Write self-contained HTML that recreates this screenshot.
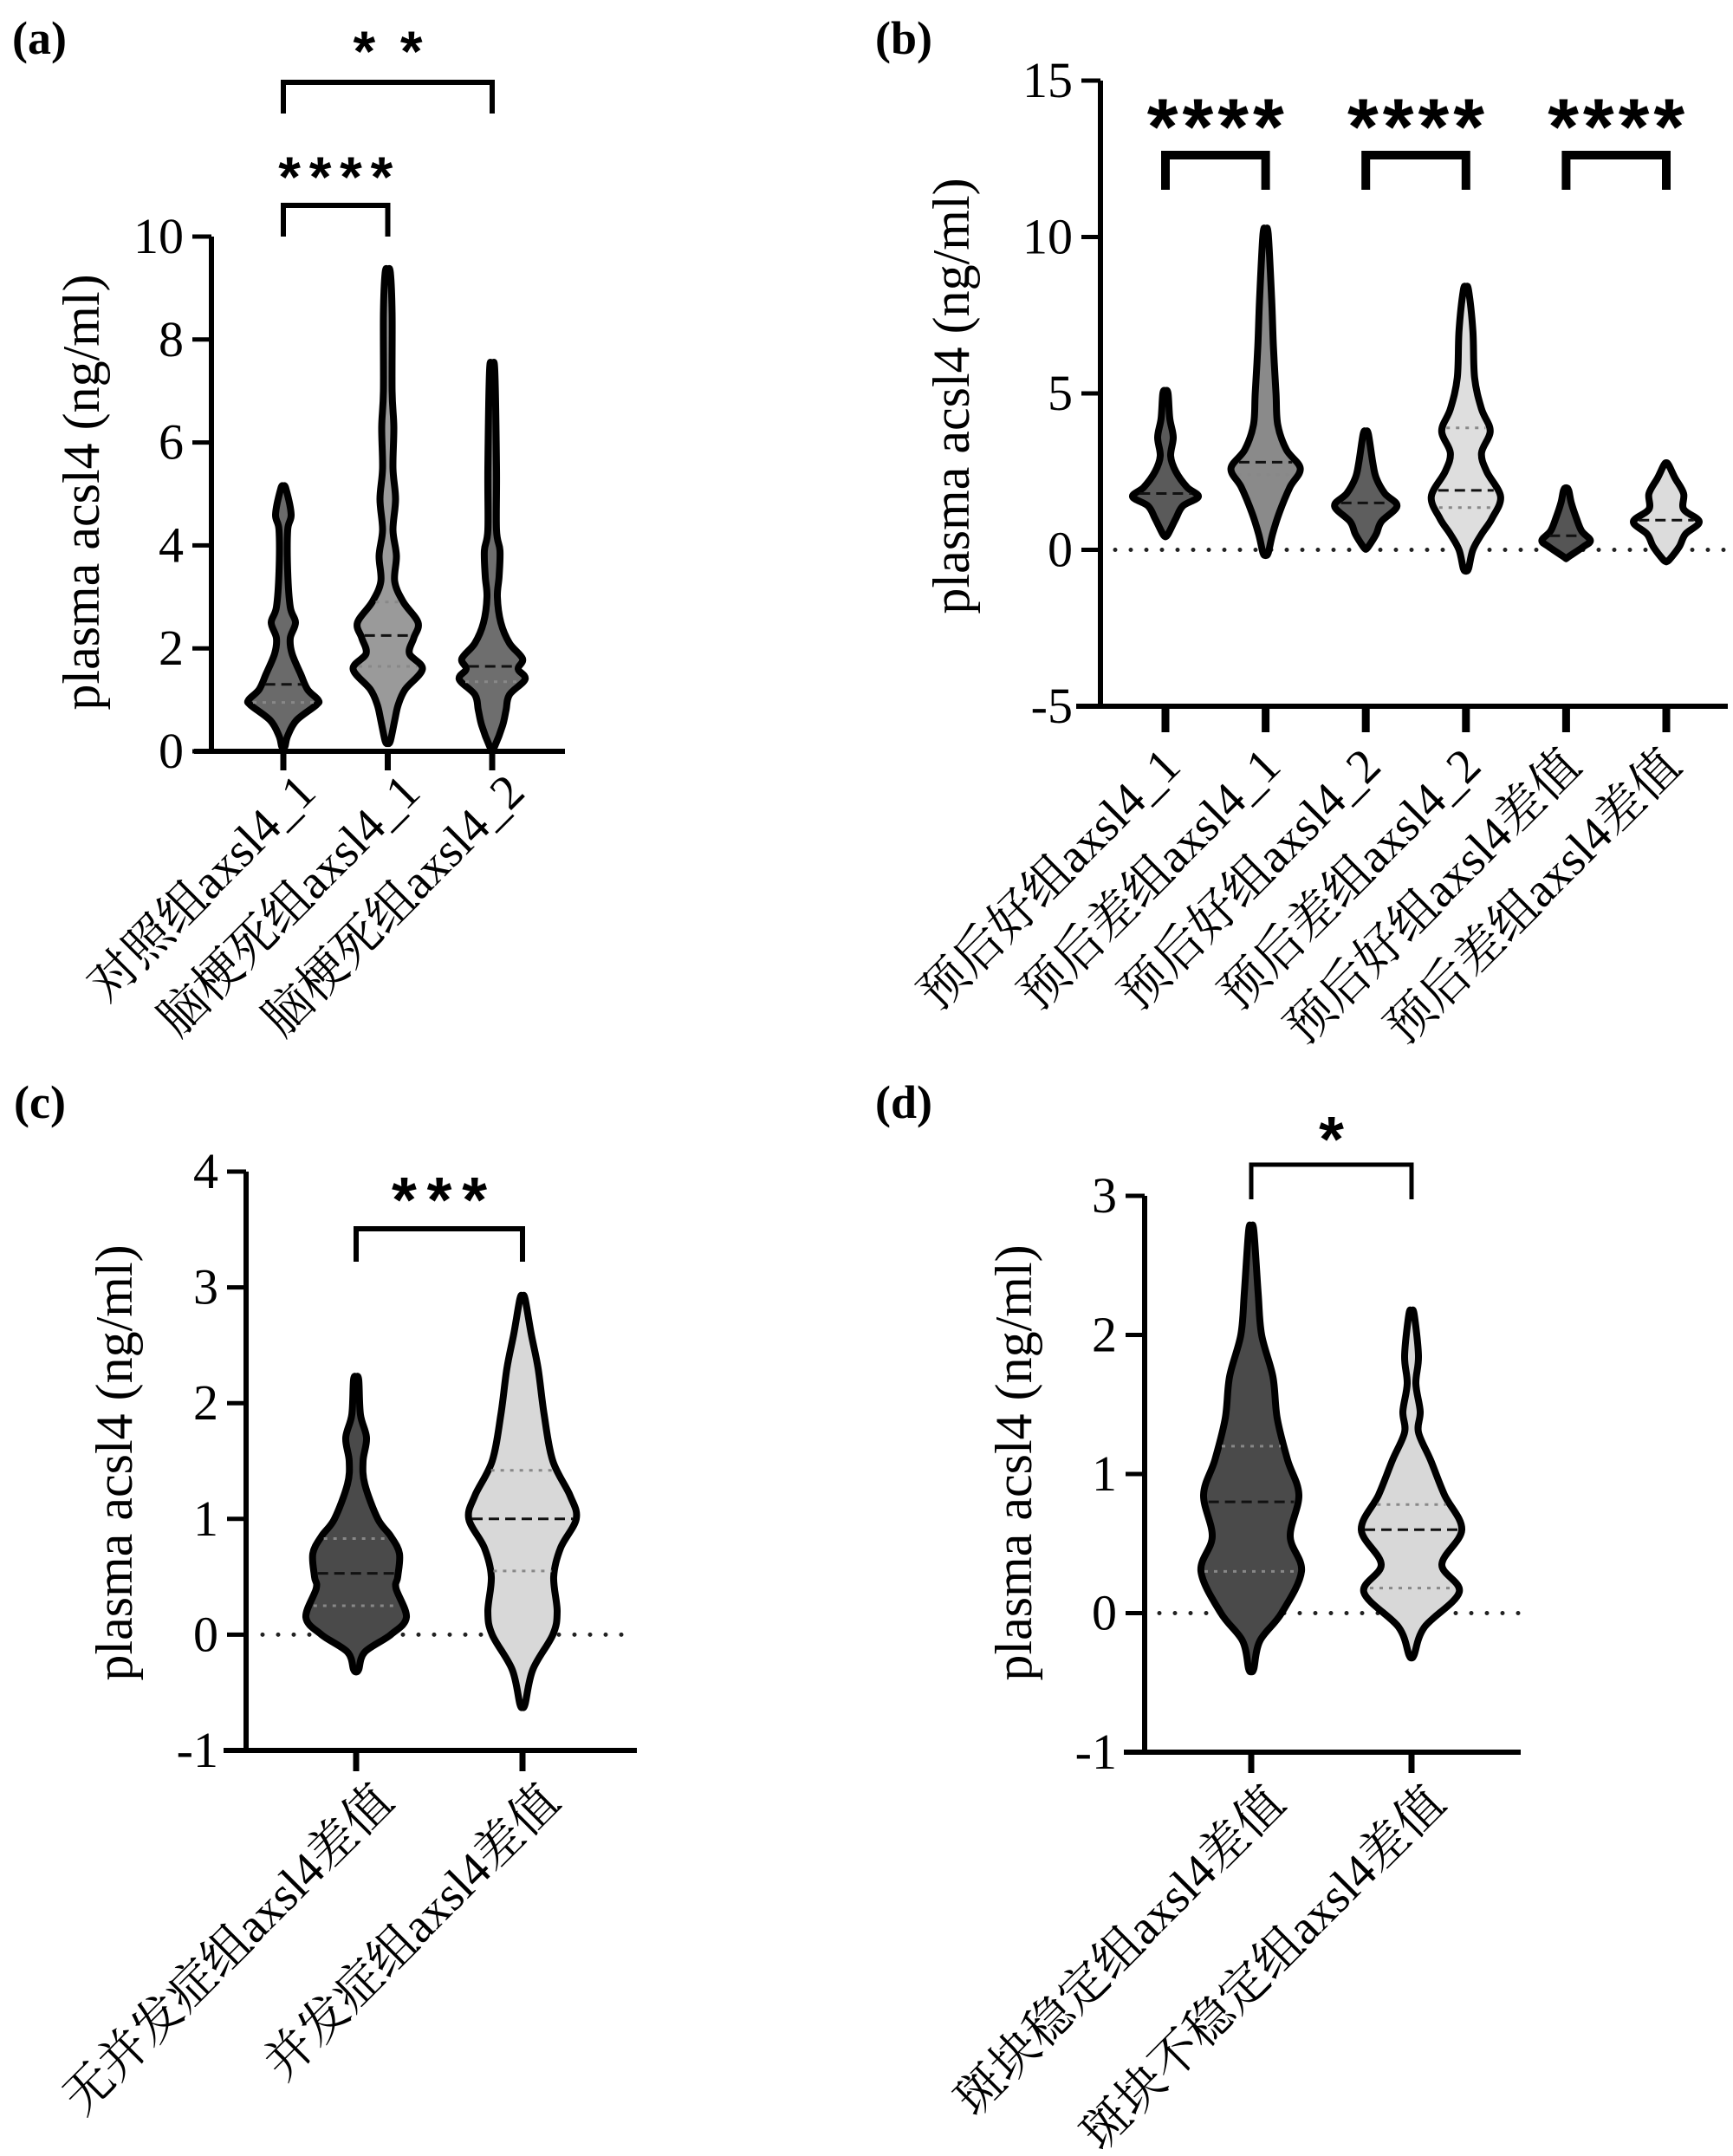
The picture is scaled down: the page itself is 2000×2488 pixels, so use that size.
<!DOCTYPE html>
<html><head><meta charset="utf-8"><style>
html,body{margin:0;padding:0;background:#fff;}
svg{display:block;}
text{font-family:"Liberation Serif","Noto Serif CJK SC",serif;fill:#000;}
.star{font-family:"Liberation Sans",sans-serif;font-weight:bold;}
</style></head><body>
<svg id="fig" width="2000" height="2488" viewBox="0 0 2000 2488" xmlns="http://www.w3.org/2000/svg"></svg>
<script>
// ---- Panel (a) data ----
const aCategories = ["对照组axsl4_1","脑梗死组axsl4_1","脑梗死组axsl4_2"];
const aTicks = [0,2,4,6,8,10];
const aLevels = [
 [0.1,0.3,0.6,0.9,1.0,1.2,1.5,1.9,2.2,2.5,2.8,3.5,4.3,4.6,5.1],
 [0.2,0.6,0.9,1.2,1.6,1.9,2.2,2.5,2.9,3.3,3.8,4.3,4.9,5.5,6.3,7.0,8.5,9.3],
 [0.1,0.5,0.8,1.1,1.4,1.6,1.8,2.1,2.5,3.0,3.4,3.9,4.3,5.5,7.4]];
const aDensity = [
 [2,5,15,38,40,28,20,10,8,14,8,5,5,9,3],
 [3,8,12,20,40,25,30,35,18,8,10,6,9,6,7,5,5,3],
 [3,12,16,20,38,30,35,20,10,6,8,9,5,5,3]];
const aMedian = [1.3,2.25,1.65];
const aQ1 = [0.95,1.65,1.35];
const aQ3 = [null,2.9,null];
// ---- Panel (b) data ----
const bCategories = ["预后好组axsl4_1","预后差组axsl4_1","预后好组axsl4_2","预后差组axsl4_2","预后好组axsl4差值","预后差组axsl4差值"];
const bTicks = [-5,0,5,10,15];
const bLevels = [
 [0.5,1.0,1.4,1.7,2.0,2.5,3.0,3.6,4.2,5.0],
 [-0.1,0.5,1.2,2.0,2.6,3.2,4.0,5.0,6.5,8.0,10.1],
 [0.1,0.5,0.9,1.4,1.8,2.3,2.8,3.7],
 [-0.6,0.0,0.5,1.0,1.7,2.5,3.1,3.8,4.5,5.5,7.0,8.3],
 [-0.2,0.1,0.3,0.6,1.0,1.5,1.9],
 [-0.3,0.1,0.5,0.9,1.3,1.8,2.3,2.7]];
const bDensity = [
 [3,12,20,38,25,12,6,9,5,3],
 [3,8,16,28,40,24,14,12,9,7,3],
 [3,12,18,36,22,12,8,3],
 [3,8,18,30,40,24,18,28,18,10,8,3],
 [4,20,28,18,12,6,3],
 [4,15,22,38,20,20,10,3]];
const bMedian = [1.8,2.8,1.5,1.9,0.45,0.95];
const bQ1 = [null,2.4,null,1.35,null,null];
const bQ3 = [null,null,null,3.9,null,null];
// ---- Panel (c) data ----
const cCategories = ["无并发症组axsl4差值","并发症组axsl4差值"];
const cTicks = [-1,0,1,2,3,4];
const cLevels = [
 [-0.3,-0.15,0.0,0.15,0.4,0.5,0.7,0.85,1.0,1.3,1.5,1.7,1.9,2.2],
 [-0.6,-0.3,0.0,0.2,0.5,0.75,1.0,1.2,1.5,1.9,2.3,2.6,2.9]];
const cDensity = [
 [3,10,40,58,46,48,50,40,25,10,8,12,5,3],
 [3,12,35,40,36,44,62,55,35,25,18,10,3]];
const cMedian = [0.53,1.0];
const cQ1 = [0.25,0.55];
const cQ3 = [0.83,1.42];
// ---- Panel (d) data ----
const dCategories = ["斑块稳定组axsl4差值","斑块不稳定组axsl4差值"];
const dTicks = [-1,0,1,2,3];
const dLevels = [
 [-0.4,-0.2,0.0,0.3,0.55,0.85,1.1,1.4,1.7,2.0,2.3,2.75],
 [-0.3,-0.1,0.15,0.35,0.6,0.85,1.1,1.3,1.45,1.65,1.85,2.15]];
const dDensity = [
 [3,10,35,58,45,55,42,30,25,12,8,3],
 [3,15,55,35,58,38,22,8,10,5,8,3]];
const dMedian = [0.8,0.6];
const dQ1 = [0.3,0.18];
const dQ3 = [1.2,0.78];

const NS="http://www.w3.org/2000/svg";
const svg=document.getElementById('fig');
function mk(tag,attrs,parent){const e=document.createElementNS(NS,tag);for(const k in attrs)e.setAttribute(k,attrs[k]);(parent||svg).appendChild(e);return e;}

function spline(pts){
  let d="M"+pts[0][0]+","+pts[0][1];
  for(let i=0;i<pts.length-1;i++){
    const p0=pts[Math.max(i-1,0)],p1=pts[i],p2=pts[i+1],p3=pts[Math.min(i+2,pts.length-1)];
    const c1=[p1[0]+(p2[0]-p0[0])/6,p1[1]+(p2[1]-p0[1])/6];
    const c2=[p2[0]-(p3[0]-p1[0])/6,p2[1]-(p3[1]-p1[1])/6];
    d+=" C"+c1[0]+","+c1[1]+" "+c2[0]+","+c2[1]+" "+p2[0]+","+p2[1];
  }
  return d;
}
function interp(levels,dens,v){
  if(v<=levels[0])return dens[0];
  for(let i=0;i<levels.length-1;i++){if(v<=levels[i+1]){const t=(v-levels[i])/(levels[i+1]-levels[i]);return dens[i]+t*(dens[i+1]-dens[i]);}}
  return dens[dens.length-1];
}

function panel(cfg){
  const g=mk('g',{});
  
  
  const Y=v=>cfg.y0-(v-cfg.vmin)*cfg.ppu;
  const X=i=>cfg.x1+i*cfg.step;
  const lbl=mk('text',{x:cfg.lx,y:cfg.ly,'font-size':54,'font-weight':'bold'},g);
  lbl.textContent='('+cfg.id+')';
  
  
  if(cfg.zero){
    const z=mk('line',{x1:cfg.zx,x2:cfg.axEnd,y1:Y(0),y2:Y(0),stroke:'#222','stroke-width':5,'stroke-dasharray':'0 18','stroke-linecap':'round'},g);
    
    
  }
  cfg.levels.forEach((lv,i)=>{
    const cx=X(i), den=cfg.density[i];
    const right=lv.map((v,k)=>[cx+den[k]*cfg.ws,Y(v)]);
    const left=lv.map((v,k)=>[cx-den[k]*cfg.ws,Y(v)]).reverse();
    const bottom=[cx,Y(lv[0])+3], top=[cx,Y(lv[lv.length-1])-3];
    const pts=[bottom,...right,top,...left,bottom];
    const p=mk('path',{d:spline(pts)+"Z",fill:cfg.fills[i],stroke:'#000','stroke-width':cfg.vsw,'stroke-linejoin':'round'},g);
    
    
    const qline=(v,dash,col,nm)=>{
      if(v==null)return;
      const w=interp(lv,den,v)*cfg.ws-cfg.vsw/2;
      const l=mk('line',{x1:cx-w,x2:cx+w,y1:Y(v),y2:Y(v),stroke:col,'stroke-width':3,'stroke-dasharray':dash},g);
      
      
    };
    qline(cfg.q1[i],'4 7','#888','quartile-line');
    qline(cfg.q3[i],'4 7','#888','quartile-line');
    qline(cfg.median[i],'12 7','#111','median-line');
  });
  const ymax=cfg.ticks[cfg.ticks.length-1], ymin=cfg.ticks[0];
  const ya=mk('line',{x1:cfg.ax,x2:cfg.ax,y1:Y(ymax),y2:Y(ymin)+cfg.asw/2,stroke:'#000','stroke-width':cfg.asw},g);
  
  
  const xa=mk('line',{x1:cfg.axStart,x2:cfg.axEnd,y1:Y(ymin),y2:Y(ymin),stroke:'#000','stroke-width':cfg.asw},g);
  
  
  cfg.ticks.forEach(t=>{
    const tl=mk('line',{x1:cfg.ax-22,x2:cfg.ax,y1:Y(t),y2:Y(t),stroke:'#000','stroke-width':cfg.asw-1},g);
    
    
    const tx=mk('text',{x:cfg.ax-32,y:Y(t)+19,'font-size':58,'text-anchor':'end'},g);
    tx.textContent=String(t);
    
    
  });
  cfg.cats.forEach((c,i)=>{
    const tl=mk('line',{x1:X(i),x2:X(i),y1:Y(ymin),y2:Y(ymin)+cfg.tlen,stroke:'#000','stroke-width':cfg.xtw},g);
    
    
    const ex=X(i)+cfg.xo[0], ey=Y(ymin)+cfg.xo[1];
    const tx=mk('text',{x:ex,y:ey,'font-size':56,'text-anchor':'end',transform:'rotate(-45 '+ex+' '+ey+')'},g);
    tx.textContent=c;
    
    
  });
  const yt=mk('text',{x:0,y:0,'font-size':60,'text-anchor':'middle',transform:'translate('+cfg.tx+','+cfg.ty+') rotate(-90)'},g);
  yt.textContent='plasma acsl4 (ng/ml)';
  
  
  cfg.brackets.forEach(b=>{
    const x1=X(b.i),x2=X(b.j);
    const br=mk('path',{d:'M'+x1+','+b.bot+' V'+b.top+' H'+x2+' V'+b.bot,fill:'none',stroke:'#000','stroke-width':b.sw},g);
    
    
    const s=mk('text',{x:(x1+x2)/2,y:b.sy,'font-size':b.fs,'text-anchor':'middle',class:'star',textLength:b.tl,lengthAdjust:'spacing'},g);
    s.textContent=b.s;
    
    
  });
}

panel({id:'a',lx:14,ly:62,y0:867,vmin:0,ppu:59.4,x1:327,step:120.5,ax:244,axStart:224,axEnd:652,asw:6,xtw:7,tlen:22,
 ticks:aTicks,cats:aCategories,levels:aLevels,density:aDensity,median:aMedian,q1:aQ1,q3:aQ3,ws:1,vsw:8,
 fills:['#6a6a6a','#9a9a9a','#6e6e6e'],zero:false,xo:[40,50],tx:114,ty:568,
 brackets:[{i:0,j:1,top:237,bot:273,sw:6,s:'****',sy:227,fs:66,tl:132},{i:0,j:2,top:95,bot:131,sw:6,s:'* *',sy:82,fs:66,tl:80}]});
panel({id:'b',lx:1010,ly:62,y0:815,vmin:-5,ppu:36.1,x1:1345,step:115.6,ax:1270,axStart:1242,axEnd:1994,asw:6,xtw:9,tlen:30,
 ticks:bTicks,cats:bCategories,levels:bLevels,density:bDensity,median:bMedian,q1:bQ1,q3:bQ3,ws:1,vsw:8,
 fills:['#5a5a5a','#8a8a8a','#5e5e5e','#dedede','#555','#dcdcdc'],zero:true,zx:1287,xo:[20,72],tx:1118,ty:457,
 brackets:[0,2,4].map(i=>({i:i,j:i+1,top:179,bot:219,sw:10,s:'****',sy:178,fs:92,tl:158}))});
panel({id:'c',lx:16,ly:1290,y0:2020,vmin:-1,ppu:133.6,x1:411,step:192,ax:284,axStart:258,axEnd:735,asw:6,xtw:7,tlen:24,
 ticks:cTicks,cats:cCategories,levels:cLevels,density:cDensity,median:cMedian,q1:cQ1,q3:cQ3,ws:1,vsw:8,
 fills:['#4a4a4a','#d8d8d8'],zero:true,zx:303,xo:[46,62],tx:152,ty:1688,
 brackets:[{i:0,j:1,top:1418,bot:1456,sw:6,s:'***',sy:1410,fs:74,tl:110}]});
panel({id:'d',lx:1010,ly:1290,y0:2022,vmin:-1,ppu:160.5,x1:1444,step:185,ax:1321,axStart:1297,axEnd:1755,asw:6,xtw:7,tlen:24,
 ticks:dTicks,cats:dCategories,levels:dLevels,density:dDensity,median:dMedian,q1:dQ1,q3:dQ3,ws:1,vsw:8,
 fills:['#4a4a4a','#d8d8d8'],zero:true,zx:1338,xo:[42,62],tx:1190,ty:1688,
 brackets:[{i:0,j:1,top:1344,bot:1384,sw:5,s:'*',sy:1340,fs:74,tl:30}]});
</script>
</body></html>
